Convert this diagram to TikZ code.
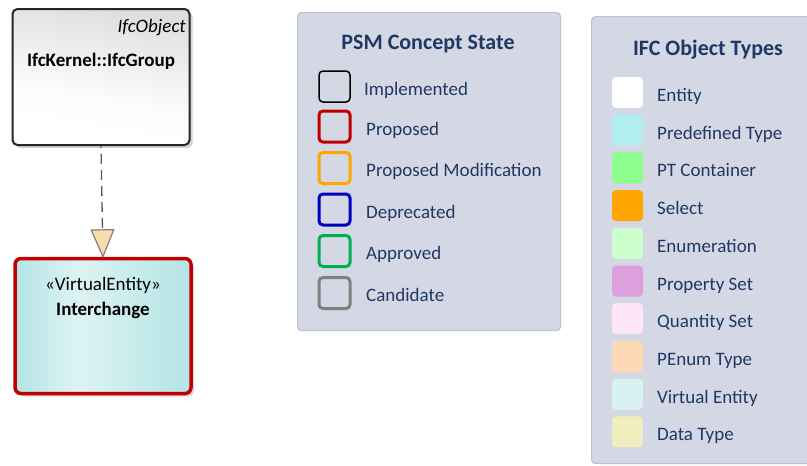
\documentclass[tikz,border=0pt]{standalone}
\usepackage{fontspec}
\setmainfont{Carlito}
\usetikzlibrary{arrows.meta,shadows}
\definecolor{navy}{HTML}{1F3864}
\definecolor{panelbg}{HTML}{D4D8E4}
\definecolor{panelbd}{HTML}{BDC2D2}
\definecolor{propred}{HTML}{C00000}
\definecolor{proporange}{HTML}{FFA500}
\definecolor{depblue}{HTML}{0000C0}
\definecolor{appgreen}{HTML}{00B050}
\definecolor{candgray}{HTML}{808080}
\definecolor{cEntity}{HTML}{FFFFFF}
\definecolor{cPredef}{HTML}{B0EEEF}
\definecolor{cPT}{HTML}{8CFF8C}
\definecolor{cSelect}{HTML}{FFA500}
\definecolor{cEnum}{HTML}{CCFFCC}
\definecolor{cPset}{HTML}{DDA0DD}
\definecolor{cQset}{HTML}{FDE6FA}
\definecolor{cPenum}{HTML}{FDD8B5}
\definecolor{cVirt}{HTML}{D8F2F2}
\definecolor{cData}{HTML}{F0EEBE}
\definecolor{triFill}{HTML}{F8DCAE}
\definecolor{cyanA}{HTML}{B3E4E5}
\definecolor{cyanB}{HTML}{DDF3F3}
\definecolor{cyanC}{HTML}{B3E4E5}
\definecolor{grayR}{HTML}{DEDEDE}
\pgfdeclarehorizontalshading{ventshade}{100bp}{color(0bp)=(cyanA); color(25bp)=(cyanA); color(43bp)=(cyanB); color(75bp)=(cyanC); color(100bp)=(cyanC)}
\pgfdeclarehorizontalshading{entshade}{100bp}{color(0bp)=(white); color(25bp)=(white); color(40bp)=(white!97!grayR); color(75bp)=(grayR); color(100bp)=(grayR)}
\tikzset{
  body/.style={font=\fontsize{19}{23}\selectfont},
  panel/.style={draw=panelbd, line width=1.2pt, fill=panelbg, rounded corners=4pt},
  ptitle/.style={font=\fontsize{22}{26}\selectfont\bfseries, text=navy, inner sep=0pt, anchor=base},
  plabel/.style={body, text=navy, inner sep=0pt, anchor=base west},
  statebox/.style={draw=#1, line width=3pt, rounded corners=4pt, minimum width=31pt, minimum height=31pt, inner sep=0pt},
  swatch/.style={fill=#1, rounded corners=4pt, minimum width=31pt, minimum height=31pt, inner sep=0pt},
  classtext/.style={body, text=black, inner sep=0pt, anchor=base},
}
\begin{document}
\begin{tikzpicture}[x=1pt,y=-1pt]
\useasboundingbox (0,0) rectangle (807,466);
\begin{scope}
\clip (0,0) rectangle (807,466);
% class boxes
\node[draw=black!85, line width=2pt, rounded corners=5pt, minimum width=177pt, minimum height=136pt,
      shading=entshade, shading angle=80,
      drop shadow={shadow xshift=3pt, shadow yshift=-3pt, opacity=0.35}] (grp) at (101,77) {};
\node[classtext, font=\fontsize{19}{23}\selectfont\itshape, anchor=base east] (grpst) at (186,32) {IfcObject};
\node[classtext, font=\fontsize{19}{23}\selectfont\bfseries] (grpname) at (101,66) {IfcKernel::IfcGroup};

\node[draw=propred, line width=3.5pt, rounded corners=6pt, minimum width=176pt, minimum height=135pt,
      shading=ventshade,
      drop shadow={shadow xshift=3pt, shadow yshift=-3pt, opacity=0.3}] (inter) at (103,326) {};
\node[classtext] (interst) at (103,290) {«VirtualEntity»};
\node[classtext, font=\fontsize{19}{23}\selectfont\bfseries] (intername) at (103,315) {Interchange};

\draw[black!65, line width=1.3pt, dash pattern=on 10pt off 6pt, dash phase=-8pt,
      -{Triangle[length=29pt, width=24pt, fill=triFill, line width=1.2pt, color=black!50]}]
  (grp.south) -- ([yshift=-1.5pt]inter.north);

% PSM legend
\node[panel, minimum width=263pt, minimum height=318pt, anchor=north west] (psm) at (297,12) {};
\node[ptitle] (psmtitle) at (428,49) {PSM Concept State};
\node[statebox=black, line width=1.5pt] (s1) at (334.5,86.5) {};
\node[statebox=propred] (s2) at (334.5,126.5) {};
\node[statebox=proporange] (s3) at (334.5,168) {};
\node[statebox=depblue] (s4) at (334.5,209.5) {};
\node[statebox=appgreen] (s5) at (334.5,251) {};
\node[statebox=candgray] (s6) at (334.5,293) {};
\node[plabel] (l1) at (364,95) {Implemented};
\node[plabel] (l2) at (366,135) {Proposed};
\node[plabel] (l3) at (366,176.5) {Proposed Modification};
\node[plabel] (l4) at (366,218) {Deprecated};
\node[plabel] (l5) at (366,259.5) {Approved};
\node[plabel] (l6) at (366,301.5) {Candidate};

% IFC legend
\node[panel, minimum width=230pt, minimum height=447pt, anchor=north west] (ifc) at (591,16) {};
\node[ptitle] (ifctitle) at (708,55) {IFC Object Types};
\foreach \c/\t [count=\i from 0] in {cEntity/Entity, cPredef/Predefined Type, cPT/PT Container, cSelect/Select, cEnum/Enumeration, cPset/Property Set, cQset/Quantity Set, cPenum/PEnum Type, cVirt/Virtual Entity, cData/Data Type}{
  \node[swatch=\c] (w\i) at (627.5,{92.5+37.7*\i}) {};
  \node[plabel] (t\i) at (657,{101.5+37.7*\i}) {\t};
}
\end{scope}
\end{tikzpicture}
\end{document}
